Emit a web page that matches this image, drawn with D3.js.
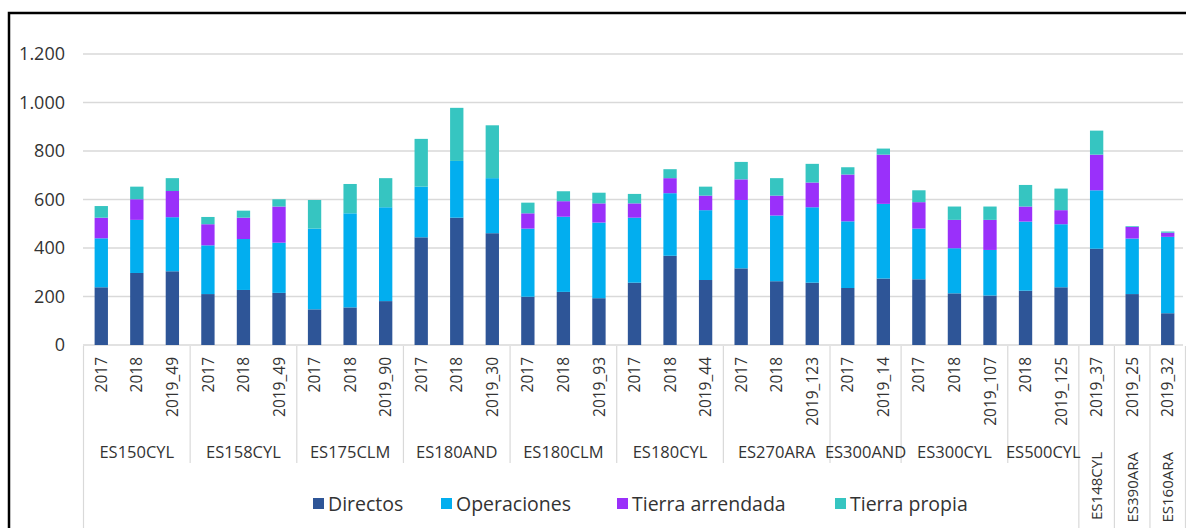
<!DOCTYPE html>
<html>
<head>
<meta charset="utf-8">
<script src="https://cdn.jsdelivr.net/npm/d3@7"></script>
<style>
  html, body { margin: 0; padding: 0; background: #fff; }
  svg { display: block; font-family: "Open Sans", "Liberation Sans", sans-serif; }
</style>
</head>
<body>
<svg id="chart" width="1186" height="528"></svg>
<script>
// ---- data ----
const barLabels = ["2017","2018","2019_49","2017","2018","2019_49","2017","2018","2019_90",
  "2017","2018","2019_30","2017","2018","2019_93","2017","2018","2019_44",
  "2017","2018","2019_123","2017","2019_14","2017","2018","2019_107",
  "2018","2019_125","2019_37","2019_25","2019_32"];
const barGroups = ["ES150CYL","ES150CYL","ES150CYL","ES158CYL","ES158CYL","ES158CYL",
  "ES175CLM","ES175CLM","ES175CLM","ES180AND","ES180AND","ES180AND",
  "ES180CLM","ES180CLM","ES180CLM","ES180CYL","ES180CYL","ES180CYL",
  "ES270ARA","ES270ARA","ES270ARA","ES300AND","ES300AND",
  "ES300CYL","ES300CYL","ES300CYL","ES500CYL","ES500CYL",
  "ES148CYL","ES390ARA","ES160ARA"];
const directos        = [238,297,304,210,227,215,147,155,181,444,525,461,199,219,193,257,368,268,316,263,257,235,274,271,213,204,224,238,397,210,131];
const operaciones     = [202,219,223,201,210,207,333,388,387,209,234,227,281,310,312,268,258,288,282,271,311,275,308,209,186,188,285,260,241,229,315];
const tierraArrendada = [ 85, 85,108, 87, 88,149,  0,  0,  0,  0,  0,  0, 63, 64, 79, 59, 62, 60, 85, 82,102,193,203,109,117,124, 62, 58,147, 48, 17];
const tierraPropia    = [ 48, 52, 53, 30, 29, 30,118,121,120,197,219,218, 44, 41, 44, 39, 37, 37, 72, 72, 77, 30, 25, 49, 55, 55, 89, 89, 99,  3,  5];
const seriesNames = ["Directos","Operaciones","Tierra arrendada","Tierra propia"];
const seriesColors = ["#2E5597","#02AEEF","#9A30FA","#36C5C1"];
const yTicks = [0,200,400,600,800,1000,1200];

// ---- build ----
const svg = d3.select("#chart");
const n = barLabels.length;
const keys = ["d","o","ta","tp"];
const rows = d3.range(n).map(i => ({i, d: directos[i], o: operaciones[i], ta: tierraArrendada[i], tp: tierraPropia[i]}));
const stacked = d3.stack().keys(keys)(rows);

const x = d3.scaleBand().domain(d3.range(n)).range([83.5, 1185.5]).paddingInner(0.625).paddingOuter(0.3125);
const y = d3.scaleLinear().domain([0, 1200]).range([345, 54]);
const color = d3.scaleOrdinal().domain(keys).range(seriesColors);
const fmt = d3.formatLocale({decimal: ",", thousands: ".", grouping: [3], currency: ["", "€"]}).format(",d");
const textColor = "#333";

// frame
svg.append("rect").attr("x", 9).attr("y", 13).attr("width", 1300).attr("height", 600)
  .attr("fill", "none").attr("stroke", "#000").attr("stroke-width", 2.5);

// grid
svg.append("g").selectAll("line").data(yTicks).join("line")
  .attr("x1", 83).attr("x2", 1183)
  .attr("y1", d => y(d)).attr("y2", d => y(d))
  .attr("stroke", "#d9d9d9").attr("stroke-width", 1.3);

// y axis labels
const yAxis = d3.axisLeft(y).tickValues(yTicks).tickFormat(fmt).tickSize(0).tickPadding(0);
const yg = svg.append("g").attr("transform", "translate(65,0)").call(yAxis);
yg.select(".domain").remove();
yg.selectAll("text").attr("font-size", 18).attr("fill", textColor).attr("font-family", "Open Sans");

// bars
svg.append("g").selectAll("g").data(stacked).join("g")
  .attr("fill", s => color(s.key))
  .selectAll("rect").data(s => s).join("rect")
  .attr("x", d => x(d.data.i))
  .attr("width", x.bandwidth())
  .attr("y", d => y(d[1]))
  .attr("height", d => Math.max(0, y(d[0]) - y(d[1])));

// category labels (level 1)
svg.append("g").selectAll("text").data(barLabels).join("text")
  .attr("transform", (d, i) => `translate(${x(i) + x.bandwidth() / 2},357) rotate(-90)`)
  .attr("text-anchor", "end").attr("dy", "0.36em")
  .attr("font-size", 15.5).attr("fill", textColor)
  .text(d => d);

// groups (level 2)
const groups = [];
barGroups.forEach((g, i) => {
  const last = groups[groups.length - 1];
  if (last && last.name === g) last.end = i; else groups.push({name: g, start: i, end: i});
});
const step = x.step();
const left = i => x(i) - (step - x.bandwidth()) / 2;
groups.forEach(g => { g.x0 = left(g.start); g.x1 = left(g.end) + step; g.single = g.start === g.end; });

// separators
const bounds = [];
groups.forEach((g, k) => {
  const prev = groups[k - 1];
  const full = k === 0 || g.single || (prev && prev.single);
  bounds.push({x: g.x0, full});
});
bounds.push({x: groups[groups.length - 1].x1, full: true});
svg.append("g").selectAll("line").data(bounds).join("line")
  .attr("x1", d => d.x).attr("x2", d => d.x)
  .attr("y1", 346).attr("y2", d => d.full ? 528 : 463)
  .attr("stroke", "#d9d9d9").attr("stroke-width", 1.2);

const gl = svg.append("g").attr("font-size", 16.5).attr("fill", textColor);
gl.selectAll("text.h").data(groups.filter(g => !g.single)).join("text").attr("class", "h")
  .attr("x", g => (g.x0 + g.x1) / 2).attr("y", 458)
  .attr("text-anchor", "middle")
  .text(g => g.name);
gl.selectAll("text.v").data(groups.filter(g => g.single)).join("text").attr("class", "v")
  .attr("transform", g => `translate(${(g.x0 + g.x1) / 2},452) rotate(-90)`)
  .attr("text-anchor", "end").attr("dy", "0.36em")
  .attr("font-size", 15)
  .text(g => g.name);

// legend
const legendX = [313, 441, 617, 835];
const lg = svg.append("g").selectAll("g").data(seriesNames).join("g")
  .attr("transform", (d, i) => `translate(${legendX[i]},498)`);
lg.append("rect").attr("width", 11).attr("height", 11).attr("fill", (d, i) => seriesColors[i]);
lg.append("text").attr("x", 15).attr("y", 5.5).attr("dy", "0.36em")
  .attr("font-size", 19.5).attr("fill", textColor).text(d => d);
</script>
</body>
</html>
